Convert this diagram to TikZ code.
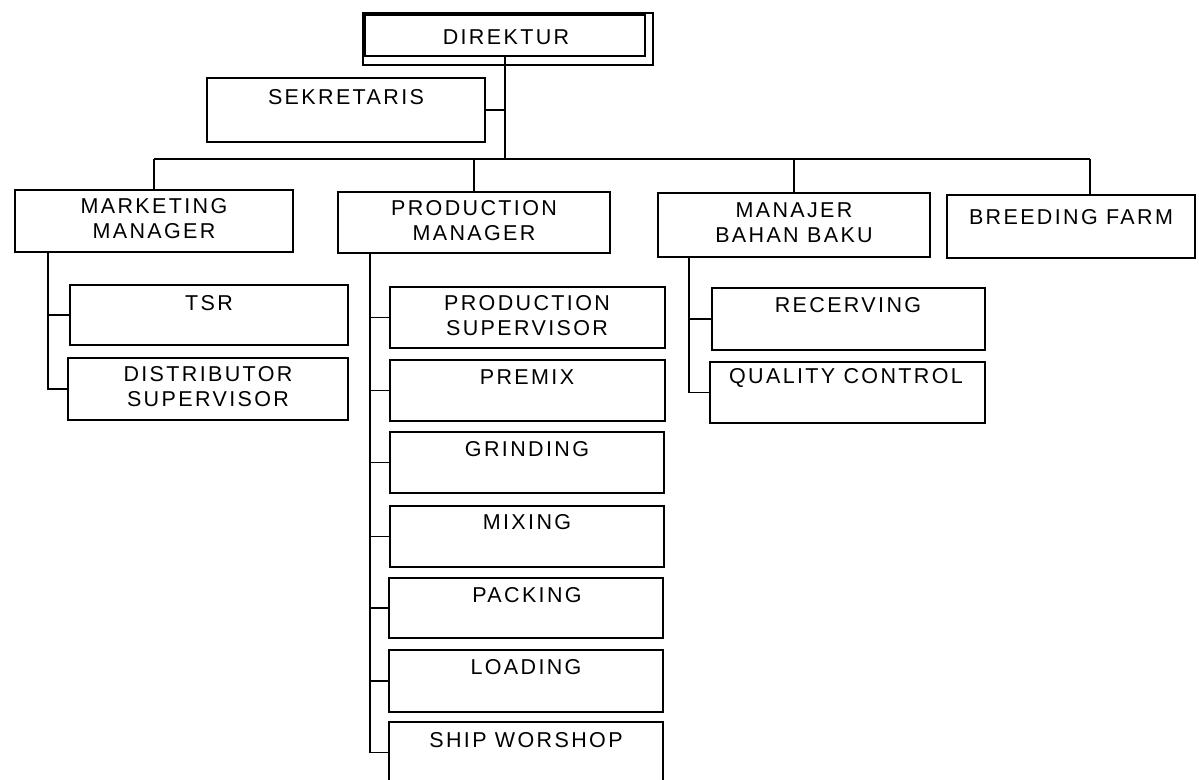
\documentclass[tikz,border=0pt]{standalone}
\usepackage{fontspec}
\setmainfont{Liberation Sans}[LetterSpace=11]
\newcommand\obox[5]{\node[box,minimum width={#4pt-#2pt},minimum height={#5pt-#3pt}] (#1) at ({(#2+#4)/2},{(#3+#5)/2}) {};}
\begin{document}
\begin{tikzpicture}[x=1pt,y=-1pt,
  box/.style={draw,line width=1.7pt,inner sep=0pt},
  txt/.style={font=\fontsize{21.5}{25}\selectfont,align=center,inner sep=0pt},
  conn/.style={line width=1.7pt}]
\useasboundingbox (0,0) rectangle (1199,779);
\clip (0,0) rectangle (1199,779);
% top
\draw[line width=2.8pt] (363,13) rectangle (653,65);
\obox{dir}{365}{15}{645}{56}
\node[txt] (dirt) at (506,37) {DIREKTUR};
\obox{sek}{207}{78}{485}{142}
\node[txt] (sekt) at (346,97) {SEKRETARIS};
% level 2
\obox{mm}{15}{190}{293}{252}
\node[txt] (mmt) at (154,219) {MARKETING\\MANAGER};
\obox{pm}{338}{192}{610}{253}
\node[txt] (pmt) at (474,221) {PRODUCTION\\MANAGER};
\obox{bb}{658}{193}{930}{257}
\node[txt] (bbt) at (794,223) {MANAJER\\BAHAN BAKU};
\obox{bf}{947}{195}{1195}{258}
\node[txt] (bft) at (1071,217) {BREEDING FARM};
% marketing subs
\obox{tsr}{70}{285}{348}{345}
\node[txt] (tsrt) at (209,303) {TSR};
\obox{ds}{68}{358}{348}{420}
\node[txt] (dst) at (208,387) {DISTRIBUTOR\\SUPERVISOR};
% production subs
\obox{ps}{390}{287}{665}{348}
\node[txt] (pst) at (527,316) {PRODUCTION\\SUPERVISOR};
\obox{pr}{390}{360}{665}{421}
\node[txt] (prt) at (527,377) {PREMIX};
\obox{gr}{390}{432}{664}{493}
\node[txt] (grt) at (527,449) {GRINDING};
\obox{mx}{390}{506}{664}{567}
\node[txt] (mxt) at (527,522) {MIXING};
\obox{pk}{389}{578}{663}{638}
\node[txt] (pkt) at (527,595) {PACKING};
\obox{ld}{389}{650}{663}{712}
\node[txt] (ldt) at (526,667) {LOADING};
\obox{sw}{389}{722}{663}{783}
\node[txt] (swt) at (526,740) {SHIP WORSHOP};
% bahan baku subs
\obox{rc}{712}{288}{985}{350}
\node[txt] (rct) at (848,305) {RECERVING};
\obox{qc}{710}{362}{985}{423}
\node[txt] (qct) at (846,378) {QUALITY CONTROL};
% connectors
\coordinate (busR) at (1090,159);
\coordinate (mmL) at (48,252);
\coordinate (pmL) at (370,253);
\coordinate (bbL) at (689,257);
\draw[conn] (dir.south) -- (dir.south |- busR);
\draw[conn] (sek.east) -- (sek.east -| dir.south);
\draw[conn] (mm.north |- busR) -- (busR);
\draw[conn] (mm.north |- busR) -- (mm.north);
\draw[conn] (pm.north |- busR) -- (pm.north);
\draw[conn] (bb.north |- busR) -- (bb.north);
\draw[conn] (busR) -- (busR |- bf.north);
\draw[conn] (mmL) |- (ds.west);
\draw[conn] (mmL |- tsr.west) -- (tsr.west);
\draw[conn] (pmL) |- (sw.west);
\foreach \n in {ps,pr,gr,mx,pk,ld} \draw[conn] (pmL |- \n.west) -- (\n.west);
\draw[conn] (bbL) |- (qc.west);
\draw[conn] (bbL |- rc.west) -- (rc.west);
\end{tikzpicture}
\end{document}
